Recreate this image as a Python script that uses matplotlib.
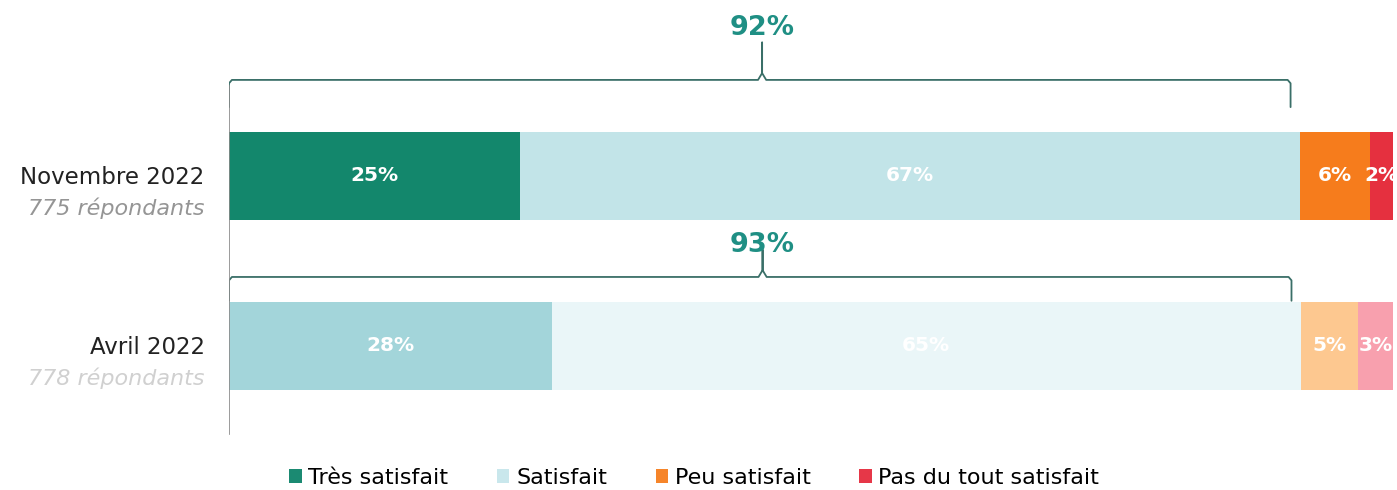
import numpy as np
import matplotlib.pyplot as plt
from matplotlib.patches import Patch

plt.rcParams['font.family'] = ['DejaVu Sans']

periods = ['Novembre 2022', 'Avril 2022']
respondents = ['775 répondants', '778 répondants']
categories = ['Très satisfait', 'Satisfait', 'Peu satisfait', 'Pas du tout satisfait']
values = [
    [25, 67, 6, 2],
    [28, 65, 5, 3],
]
satisfied_total = [92, 93]

colors = [
    ['#13876c', '#c2e4e8', '#f67c1c', '#e5303f'],
    ['#a3d5da', '#eaf6f8', '#fdc890', '#f8a0ae'],
]
legend_colors = ['#1b8a72', '#c9e7ec', '#f6852a', '#e63748']
teal = '#1f8f84'

fig = plt.figure(figsize=(13.97, 4.9), dpi=100)
ax = fig.add_axes([229 / 1397, 0, 1164 / 1397, 1])
ax.set_xlim(0, 100)
ax.set_ylim(1.847, -1.035)
ax.axis('off')

bar_h = 0.52
for i, row in enumerate(values):
    total = sum(row)
    left = 0
    for j, v in enumerate(row):
        w = v * 100 / total
        ax.barh(i, w, left=left, height=bar_h, color=colors[i][j], edgecolor='none')
        ax.text(left + w / 2, i, f'{v}%', ha='center', va='center', color='white',
                fontsize=14.5, fontweight='bold')
        left += w

# row labels
for i, (p, r) in enumerate(zip(periods, respondents)):
    ax.text(-2.1, i + 0.01, p, ha='right', va='center', fontsize=16.5, color='#222222')
    ax.text(-2.1, i + 0.19, r, ha='right', va='center', fontsize=16, color='#8a8a8a',
            style='italic', alpha=0.9 if i == 0 else 0.4)

# brackets
bracket_y = [-0.565, 0.594]
label_gap = [0.01, -0.05]
for i, tot in enumerate(satisfied_total):
    total = sum(values[i])
    x1 = tot * 100 / total - 0.8
    mid = x1 / 2 + 0.2
    y = bracket_y[i]
    drop = 0.16 if i == 0 else 0.14
    rise = 0.22 if i == 0 else 0.16
    xs = [0, 0, 0.25, mid - 0.35, mid, mid, mid, mid + 0.35, x1 - 0.25, x1, x1]
    ys = [y + drop, y + 0.02, y, y, y - 0.04, y - rise, y - 0.04, y, y, y + 0.02, y + drop]
    ax.plot(xs, ys, color='#3a6f68', lw=1.3, solid_capstyle='round')
    ax.text(mid, y - rise - label_gap[i], f'{tot}%', ha='center', va='bottom',
            color=teal, fontsize=19.5, fontweight='bold')

# vertical axis line
ax.plot([0, 0], [-0.53, 1.52], color='#8a8a8a', lw=1.2)

handles = [Patch(facecolor=c, edgecolor='none') for c in legend_colors]
fig.legend(handles, categories, loc='center', bbox_to_anchor=(0.497, 0.025), ncol=4,
           frameon=False, fontsize=16, handlelength=0.55, handleheight=0.55,
           handletextpad=0.3, columnspacing=2.2)

fig.savefig('out.png', dpi=100)
